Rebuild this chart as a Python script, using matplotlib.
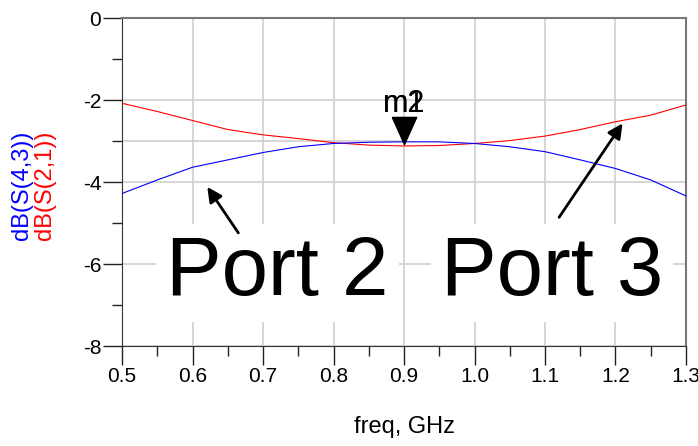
import numpy as np
import matplotlib
matplotlib.use("Agg")
import matplotlib.pyplot as plt

plt.rcParams['font.family'] = ['Liberation Sans', 'DejaVu Sans']

### Data
freq = [0.50, 0.55, 0.60, 0.65, 0.70, 0.75, 0.80, 0.85, 0.90,
        0.95, 1.00, 1.05, 1.10, 1.15, 1.20, 1.25, 1.30]
s21_db = [-2.08, -2.28, -2.50, -2.72, -2.85, -2.94, -3.04, -3.10, -3.12,
          -3.11, -3.06, -2.99, -2.88, -2.72, -2.53, -2.37, -2.12]
s43_db = [-4.28, -3.95, -3.64, -3.46, -3.28, -3.14, -3.06, -3.03, -3.02,
          -3.02, -3.06, -3.14, -3.26, -3.46, -3.67, -3.95, -4.34]

x_ticks = [0.5, 0.6, 0.7, 0.8, 0.9, 1.0, 1.1, 1.2, 1.3]
y_ticks = [0, -2, -4, -6, -8]

marker_freq = 0.9
marker_val = -3.07
marker_names = ['m1', 'm2']

port2_tip = (0.621, -4.12)
port2_tail = (0.665, -5.24)
port3_tip = (1.210, -2.57)
port3_tail = (1.120, -4.86)
port_labels = ['Port 2', 'Port 3']
port_text_pos = [(0.5625, -6.76), (0.952, -6.76)]

### Figure
fig = plt.figure(figsize=(6.98, 4.46), dpi=100)
ax = fig.add_axes([0.1748, 0.2242, 0.808, 0.7354])

ax.set_xlim(0.5, 1.3)
ax.set_ylim(-8, 0)

ax.set_xticks(x_ticks)
ax.set_xticklabels(['%.1f' % v for v in x_ticks])
ax.set_xticks(np.arange(0.55, 1.3, 0.1), minor=True)
ax.set_yticks(y_ticks)
ax.set_yticklabels([str(v) for v in y_ticks])
ax.set_yticks([-1, -3, -5, -7], minor=True)

ax.tick_params(which='major', direction='out', length=14, width=1, labelsize=15, pad=1, color='#222222')
ax.tick_params(which='minor', direction='out', length=7, width=1, color='#222222')

ax.grid(True, which='major', color='#d0d0d0', lw=1.2, zorder=0)
ax.hlines(-3, 0.5, 0.9, color='#d0d0d0', lw=1.2, zorder=0)

for side in ['left', 'bottom']:
    ax.spines[side].set_color('#333333')
for side in ['top', 'right']:
    ax.spines[side].set_color('#777777')
    ax.spines[side].set_linewidth(1.5)

ax.plot(freq, s21_db, color='#ff0000', lw=0.8, zorder=3)
ax.plot(freq, s43_db, color='#0000ff', lw=0.8, zorder=3)

# marker triangle, tip on the trace
tri = [(-0.45, 1.0), (0.45, 1.0), (0.0, 0.0), (-0.45, 1.0)]
ax.plot([marker_freq], [marker_val], marker=tri, markersize=39, color='black', ls='none', zorder=5)
for name in marker_names:
    ax.annotate(name, (marker_freq, marker_val), xytext=(0, 29), textcoords='offset points',
                ha='center', va='center', fontsize=22, zorder=6)

# Port labels with white background
for lab, (tx, ty) in zip(port_labels, port_text_pos):
    ax.text(tx, ty, lab, fontsize=60, ha='left', va='baseline', zorder=4,
            bbox=dict(boxstyle='square,pad=0.12', fc='white', ec='none'))

for tip, tail in [(port2_tip, port2_tail), (port3_tip, port3_tail)]:
    ax.annotate('', xy=tip, xytext=tail,
                arrowprops=dict(arrowstyle='-|>', color='black', lw=2, mutation_scale=22,
                                shrinkA=0, shrinkB=0), zorder=5)

ax.set_xlabel('freq, GHz', fontsize=17, labelpad=22)

fig.text(0.031, 0.585, 'dB(S(4,3))', color='#0000ff', rotation=90, fontsize=17, ha='center', va='center')
fig.text(0.065, 0.585, 'dB(S(2,1))', color='#ff0000', rotation=90, fontsize=17, ha='center', va='center')

fig.savefig('out.png', dpi=100)
